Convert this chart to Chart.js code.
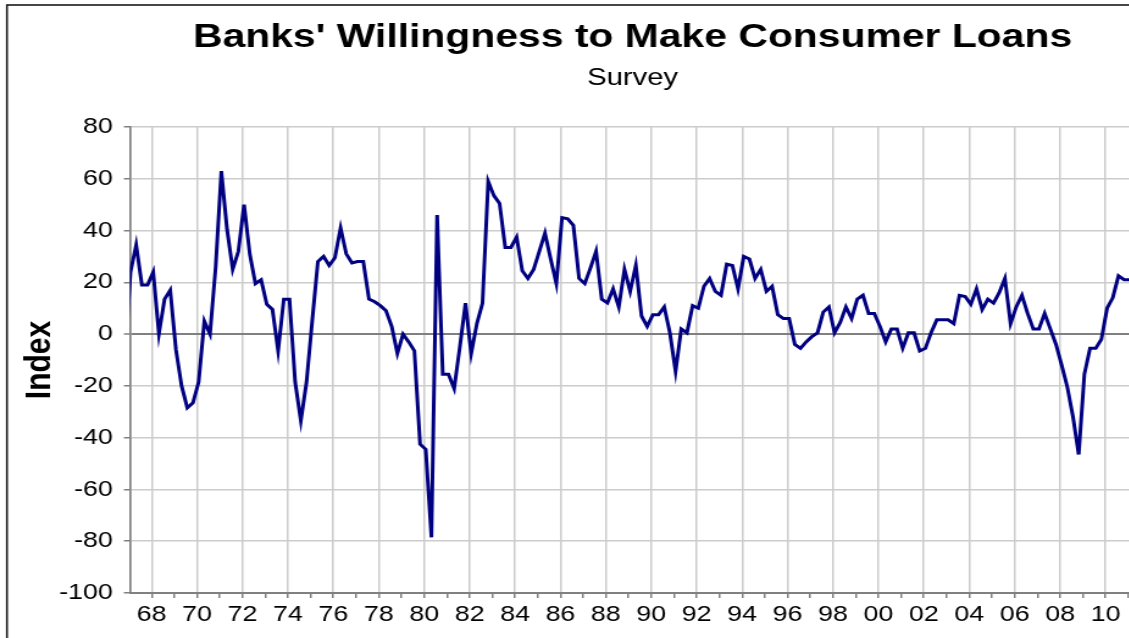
<!DOCTYPE html>
<html>
<head>
<meta charset="utf-8">
<title>Banks' Willingness to Make Consumer Loans</title>
<script src="https://cdn.jsdelivr.net/npm/chart.js@4.4.1/dist/chart.umd.min.js"></script>
<style>
  html, body { margin: 0; padding: 0; background: #fff; overflow: hidden; }
  #wrap { width: 1129px; height: 638px; overflow: hidden; }
  /* the source picture is stretched sideways, so draw narrow and widen */
  #chart { transform: scaleX(1.22); transform-origin: 0 0; }
</style>
</head>
<body>
<div id="wrap"><canvas id="chart" width="935" height="638"></canvas></div>
<script>
  const TITLE = "Banks' Willingness to Make Consumer Loans";
  const SUBTITLE = 'Survey';
  const Y_TITLE = 'Index';

  // quarterly survey, first value is 1966 Q4 (only a sliver of it shows)
  const FIRST_QUARTER = 1966.82;
  const willingness = [
    -10, 24, 34.5, 19, 19, 24, 0, 13.5, 17, -6,
    -20, -28.5, -26.5, -18.5, 5, 0, 26, 63, 40.5, 25,
    32, 50, 31, 19.5, 21, 11.5, 9.5, -6.5, 13.5, 13.5,
    -18.5, -33.5, -18.5, 5, 28, 30, 26.5, 29.5, 41, 31,
    27.5, 28, 28, 13.5, 12.5, 11, 9, 3, -7.5, 0,
    -3, -6.5, -42.5, -44.5, -78.5, 46, -15.5, -15.5, -21, -5,
    12, -7.5, 4, 12, 59, 53.5, 50.5, 33.5, 33.5, 37.5,
    24.5, 21.5, 25, 32, 39, 29, 19.5, 45, 44.5, 42,
    21.5, 19.5, 25.5, 32, 13.5, 12, 17.5, 10.5, 25, 16.5,
    26.5, 7, 3, 7.5, 7.5, 10.5, 0.5, -14.5, 2, 0.5,
    11, 10, 18.5, 21.5, 16.5, 15, 27, 26.5, 17.5, 30,
    29, 21.5, 25, 16.5, 18.5, 7.5, 6, 6, -4, -5.5,
    -3, -1, 0.5, 8.5, 10.5, 0.5, 4.5, 10.5, 6, 13.5,
    15, 8, 8, 3, -3, 2, 2, -5.5, 0.5, 0.5,
    -6.5, -5.5, 0.5, 5.5, 5.5, 5.5, 4, 15, 14.5, 11.5,
    17.5, 9.5, 13.5, 12, 16, 21.5, 4, 10.5, 15, 8,
    2, 2, 8, 2, -4, -12, -20.5, -32, -46.5, -15.5,
    -5.5, -5.5, -2, 10, 14, 22.5, 21, 21
  ];

  const labelYears = [1968, 1970, 1972, 1974, 1976, 1978, 1980, 1982, 1984, 1986, 1988,
    1990, 1992, 1994, 1996, 1998, 2000, 2002, 2004, 2006, 2008, 2010];
  const yearLabels = ['68', '70', '72', '74', '76', '78', '80', '82', '84', '86', '88',
    '90', '92', '94', '96', '98', '00', '02', '04', '06', '08', '10'];

  const FONT = '"Liberation Sans", Arial, sans-serif';
  const GRID = '#cccccc';
  const AXIS = '#808080';

  const frameAndTitles = {
    id: 'frameAndTitles',
    beforeDraw: function (chart) {
      const ctx = chart.ctx;
      ctx.save();
      ctx.fillStyle = '#ffffff';
      ctx.fillRect(0, 0, chart.width, chart.height);
      ctx.strokeStyle = '#1a1a1a';
      ctx.lineWidth = 1.6;
      ctx.strokeRect(5.7, 5, chart.width + 40, chart.height + 40);
      ctx.restore();
    },
    afterDraw: function (chart) {
      const ctx = chart.ctx;
      ctx.save();
      ctx.fillStyle = '#000000';
      ctx.textAlign = 'center';
      ctx.textBaseline = 'alphabetic';
      ctx.font = 'bold 33.5px ' + FONT;
      ctx.fillText(TITLE, 518.5, 47);
      ctx.font = '24px ' + FONT;
      ctx.fillText(SUBTITLE, 518.5, 85);
      ctx.restore();
    }
  };

  const points = willingness.map(function (v, i) {
    return { x: FIRST_QUARTER + i * 0.25, y: v };
  });

  Chart.defaults.font.family = FONT;
  Chart.defaults.color = '#000000';

  new Chart(document.getElementById('chart').getContext('2d'), {
    type: 'line',
    data: {
      datasets: [{
        data: points,
        borderColor: '#000080',
        borderWidth: 3,
        pointRadius: 0,
        tension: 0,
        fill: false
      }]
    },
    options: {
      responsive: false,
      animation: false,
      events: [],
      layout: { padding: { top: 127, left: 0, right: 0, bottom: 0 } },
      plugins: {
        legend: { display: false },
        tooltip: { enabled: false }
      },
      scales: {
        x: {
          type: 'linear',
          min: 1967.045,
          max: 2011.55,
          afterFit: function (scale) { scale.height = 45; },
          afterBuildTicks: function (scale) {
            const ticks = [];
            for (let y = 1968; y <= 2011; y++) ticks.push({ value: y });
            scale.ticks = ticks;
          },
          border: { color: AXIS, width: 2 },
          grid: {
            color: function (c) {
              return c.tick && labelYears.indexOf(c.tick.value) >= 0 ? GRID : 'rgba(0,0,0,0)';
            },
            lineWidth: 1.5,
            tickColor: AXIS,
            tickLength: 5,
            tickWidth: 1.5
          },
          ticks: {
            autoSkip: false,
            maxRotation: 0,
            padding: 4,
            font: { size: 22 },
            color: '#000000',
            callback: function (value) {
              const i = labelYears.indexOf(value);
              return i >= 0 ? yearLabels[i] : '';
            }
          }
        },
        y: {
          min: -100,
          max: 80,
          afterFit: function (scale) { scale.width = 106.5; },
          border: { color: AXIS, width: 1.7 },
          grid: {
            color: function (c) {
              if (!c.tick) return GRID;
              if (c.tick.value === 0) return AXIS;
              return c.tick.value % 20 === 0 ? GRID : 'rgba(0,0,0,0)';
            },
            lineWidth: function (c) {
              return c.tick && c.tick.value === 0 ? 2 : 1.5;
            },
            tickColor: AXIS,
            tickLength: 5,
            tickWidth: 1.5
          },
          ticks: {
            stepSize: 10,
            padding: 9,
            font: { size: 22 },
            color: '#000000',
            callback: function (value) {
              return value % 20 === 0 ? value : '';
            }
          },
          title: {
            display: true,
            text: Y_TITLE,
            color: '#000000',
            font: { size: 30, weight: 'bold' },
            padding: { top: 15, bottom: 0 }
          }
        }
      }
    },
    plugins: [frameAndTitles]
  });
</script>
</body>
</html>
